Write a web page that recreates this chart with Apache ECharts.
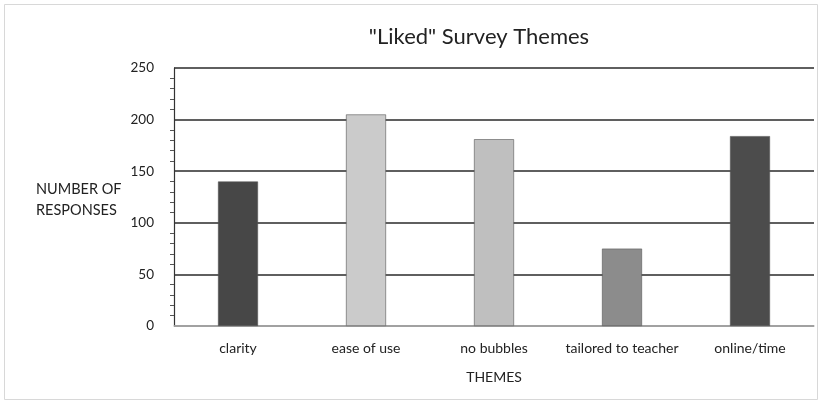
<!DOCTYPE html>
<html>
<head>
<meta charset="utf-8">
<script src="https://cdn.jsdelivr.net/npm/echarts@6/dist/echarts.min.js"></script>
<style>html,body{margin:0;padding:0;background:#fff}#c{width:822px;height:404px}</style>
</head>
<body>
<div id="c"></div>
<script>
const categories = ['clarity', 'ease of use', 'no bubbles', 'tailored to teacher', 'online/time'];
const values = [140, 205, 181, 75, 184];
const barColors = ['#474747', '#cbcbcb', '#bfbfbf', '#8c8c8c', '#4c4c4c'];
const yTicks = [0, 50, 100, 150, 200, 250];
const titleText = '"Liked" Survey Themes';
const xName = 'THEMES';
const yNameLines = ['NUMBER OF', 'RESPONSES'];

const FONT = 'Lato, "Open Sans", sans-serif';
const chart = echarts.init(document.getElementById('c'), null, {renderer: 'canvas'});
chart.setOption({
  backgroundColor: '#fff',
  animation: false,
  title: {
    text: titleText, left: 474, top: 21, textAlign: 'center',
    textStyle: {fontFamily: FONT, fontSize: 22, fontWeight: 'normal', color: '#222'}
  },
  grid: {left: 174, right: 8, top: 68, bottom: 78, containLabel: false},
  xAxis: {
    type: 'category', data: categories,
    axisLine: {lineStyle: {color: '#b8b8b8', width: 1.5}},
    axisTick: {show: false},
    axisLabel: {interval: 0, fontFamily: FONT, fontSize: 14, color: '#222', margin: 15},
    name: xName, nameLocation: 'middle', nameGap: 44,
    nameTextStyle: {fontFamily: FONT, fontSize: 14, color: '#222'}
  },
  yAxis: {
    type: 'value', min: yTicks[0], max: yTicks[yTicks.length - 1], interval: 50,
    axisLine: {show: true, lineStyle: {color: '#333', width: 1.2}},
    axisTick: {show: false},
    minorTick: {show: true, splitNumber: 5, length: 4, lineStyle: {color: '#555'}},
    axisLabel: {fontFamily: FONT, fontSize: 13.5, color: '#222', margin: 20},
    splitLine: {lineStyle: {color: '#2a2a2a', width: 1.6}}
  },
  graphic: [
    {type: 'rect', left: 2, top: 2, shape: {width: 813, height: 395},
     style: {fill: 'none', stroke: '#d8d8d8', lineWidth: 1}, silent: true, z: -1},
    {type: 'text', left: 36, top: 179,
     style: {text: yNameLines.join('\n'), fontFamily: FONT, fontSize: 14.5, fill: '#222', align: 'center', lineHeight: 21}}
  ],
  series: [{
    type: 'bar', barWidth: 40,
    data: values.map((v, i) => ({value: v, itemStyle: {color: barColors[i], borderColor: '#555', borderWidth: 0.6}}))
  }]
});
</script>
</body>
</html>
